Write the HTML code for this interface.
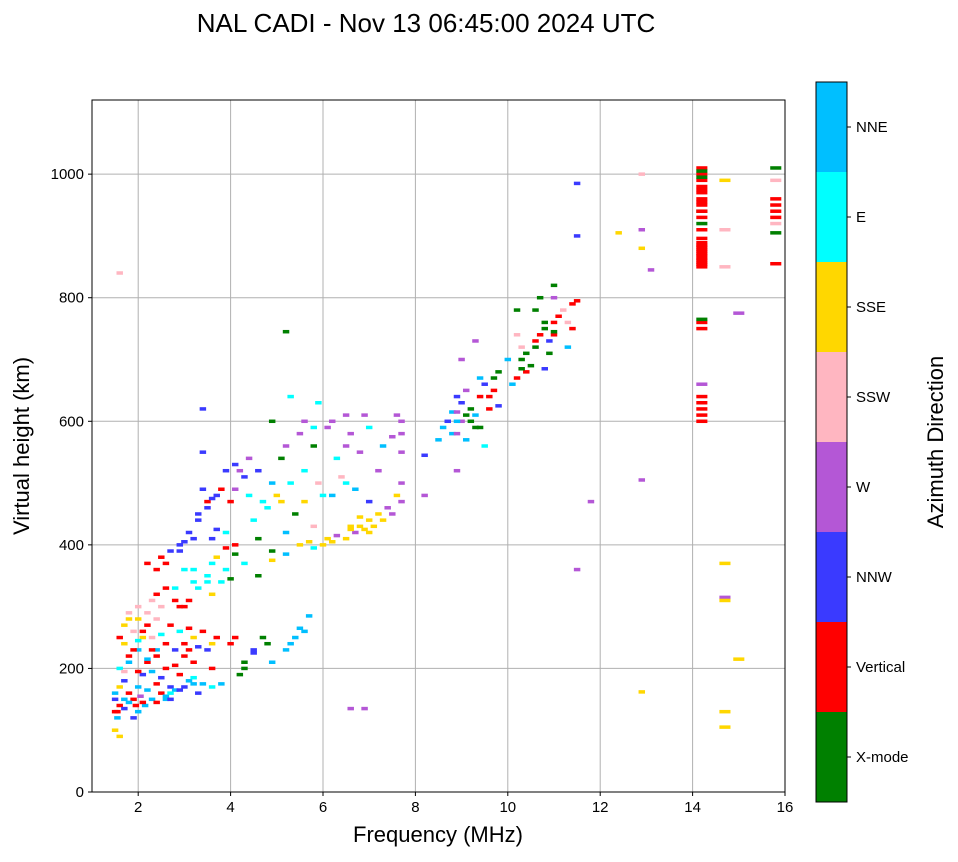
<!DOCTYPE html>
<html><head><meta charset="utf-8"><style>
body{margin:0;background:#fff;}
svg text{font-family:"Liberation Sans",sans-serif;fill:#000;}
</style></head><body>
<svg id="chart" width="958" height="857" xmlns="http://www.w3.org/2000/svg">
<text x="426" y="32" font-size="26" text-anchor="middle">NAL CADI - Nov 13 06:45:00 2024 UTC</text>
<g id="grid"></g>
<g id="cells"></g>
<rect x="92" y="100" width="693" height="692" fill="none" stroke="#000" stroke-width="1"/>
<g id="ticks"></g>
<text x="438" y="842" font-size="22" text-anchor="middle">Frequency (MHz)</text>
<text transform="translate(29,446) rotate(-90)" font-size="22" text-anchor="middle">Virtual height (km)</text>
<g id="cbar"></g>
<text transform="translate(943,442) rotate(-90)" font-size="22" text-anchor="middle">Azimuth Direction</text>
</svg>
<script>
const directions = ["X-mode","Vertical","NNW","W","SSW","SSE","E","NNE"];
const dirColors = ["#008000","#ff0000","#3a3aff","#b457d6","#ffb6c1","#ffd700","#00ffff","#00bfff"];
const xTicks = [2,4,6,8,10,12,14,16];
const yTicks = [0,200,400,600,800,1000];
const freqs = [1.5,1.55,1.6,1.5,1.7,1.6,1.8,1.7,1.9,1.8,2.0,1.6,1.9,2.0,2.1,2.2,2.0,2.1,2.2,2.3,2.4,2.5,2.3,2.5,2.6,2.7,2.8,3.0,3.1,3.2,3.4,3.6,3.8,
1.55,1.7,1.8,1.95,2.05,2.15,2.4,2.6,2.7,
2.4,2.6,2.8,3.0,3.2,3.5,3.6,4.0,4.3,4.5,4.7,4.2,
4.9,5.2,5.4,5.5,5.7,
2.2,2.5,2.7,2.9,3.1,3.3,3.5,3.7,3.4,3.0,3.2,3.5,3.8,2.8,3.0,2.6,3.6,3.9,4.0,3.4,4.3,4.6,4.1,4.4,4.0,3.4,3.9,
4.5,4.8,5.0,5.3,5.6,5.8,5.1,5.5,5.8,6.2,6.6,6.9,5.2,4.9,5.3,6.0,6.5,6.7,7.0,7.2,6.4,5.8,4.6,4.9,5.2,
5.8,6.0,6.2,6.5,6.7,6.9,7.1,7.3,7.5,7.7,7.7,7.7,7.7,6.6,6.8,7.0,
8.2,8.5,8.8,9.0,9.2,9.4,9.0,8.8,9.3,9.5,9.7,9.8,10.0,10.3,10.3,10.5,10.6,10.8,11.0,11.2,11.4,10.2,10.7,11.0,11.3,11.0,9.3,8.9,8.2,9.5,8.9,9.1,9.6,10.4,10.9,
1.6,5.2,11.5,11.5,12.4,12.9,12.9,12.9,13.1,12.9,11.8,11.5,12.9,6.6,6.9,
14.2,14.2,14.2,14.2,14.2,14.2,14.2,14.2,14.2,14.2,14.2,14.2,14.2,14.2,14.2,14.2,14.2,14.2,14.2,14.2,14.2,14.2,14.2,14.2,14.2,14.2,14.2,14.2,
14.7,14.7,14.7,15.0,14.7,14.7,14.7,15.0,14.7,14.7,
15.8,15.8,15.8,15.8,15.8,15.8,15.8,15.8,15.8,
1.5,1.5,1.6,1.7,1.8,1.9,2.0,2.1,1.7,1.6,1.8,2.0,2.2,2.3,2.4,1.9,2.0,2.1,2.2,2.4,2.5,2.6,2.8,2.9,2.3,2.4,2.5,2.7,2.9,3.0,3.1,3.2,3.4,3.1,3.3,2.7,2.9,3.2,3.3,1.7,1.8,2.0,2.2,2.3,3.6,3.7,4.1,2.9,3.1,2.8,3.2,3.3,3.6,3.5,3.7,3.9,4.1,3.9,3.7,3.6,3.2,2.9,2.6,2.4,3.0,3.3,3.5,3.6,3.8,4.2,4.4,4.1,4.7,4.9,5.1,5.4,5.6,5.9,6.2,6.3,6.5,6.8,7.0,7.3,7.5,7.7,7.6,6.1,5.6,5.9,6.5,4.3,4.5,4.8,5.3,5.6,4.1,4.3,4.6,4.9,5.2,5.5,5.7,6.1,6.3,6.6,6.8,7.0,7.2,7.4,7.6,
8.6,8.7,8.9,9.1,9.2,9.3,9.4,8.9,9.1,9.4,9.6,9.7,9.8,10.1,10.2,10.3,10.2,10.4,10.6,10.7,10.8,10.9,11.0,11.1,11.3,11.4,11.5,10.6,11.0,10.8,9.0,8.9,
14.2,14.2,14.2,14.2,14.2,14.2,14.2,14.2,14.2,14.2];
const heights = [100,120,140,160,180,200,220,240,260,280,300,90,150,170,190,210,230,250,270,250,280,300,150,160,150,170,165,170,180,185,175,170,175,
130,135,145,140,155,140,145,155,150,
220,240,230,220,210,230,200,240,210,230,250,190,
210,230,250,265,285,
370,380,390,400,420,440,460,480,490,360,340,350,340,310,300,330,320,360,345,620,510,520,490,480,470,550,520,
440,460,480,500,520,560,540,580,590,600,580,610,560,600,640,480,500,490,470,520,510,430,410,390,420,
395,400,405,410,420,425,430,440,450,470,500,550,600,425,430,440,
545,570,580,600,620,640,630,615,590,660,650,680,700,700,720,690,730,750,760,780,790,780,800,820,720,740,730,520,480,560,600,610,620,680,710,
840,745,985,900,905,1000,880,910,845,505,470,360,162,135,135,
850,857,864,871,878,885,910,930,950,960,970,980,990,1000,1010,995,1005,920,940,600,610,620,630,640,750,760,765,660,
990,910,850,775,370,315,310,215,130,105,
1010,990,960,950,940,930,920,905,855,
130,150,170,195,210,230,245,260,270,250,290,280,290,310,320,120,130,145,165,175,185,200,205,190,195,230,255,270,260,240,265,250,260,230,235,160,165,175,160,150,160,195,215,230,240,250,250,300,310,330,360,330,370,340,380,395,400,420,425,410,410,390,370,360,405,450,470,475,490,520,540,530,470,500,470,450,470,500,480,540,560,550,590,560,575,580,610,590,600,630,610,200,225,240,240,260,385,370,350,375,385,400,405,410,415,430,445,420,450,460,480,
590,600,580,570,600,610,590,640,650,670,640,670,625,660,670,685,740,710,720,740,760,730,745,770,760,750,795,780,800,685,700,615,
854,861,868,875,882,889,896,940,955,975];
const dirIndex = [5,7,1,7,2,6,1,5,4,5,4,5,1,7,2,1,7,5,1,4,4,4,7,1,7,2,7,2,7,6,7,6,7,
1,2,7,1,3,7,1,7,2,
1,1,2,1,1,2,1,1,0,2,0,0,
7,7,7,7,7,
1,1,2,2,2,2,2,2,2,6,6,6,6,1,1,1,5,6,0,2,2,2,3,6,1,2,2,
6,6,5,6,6,0,0,3,6,3,3,3,3,0,6,6,6,7,2,3,4,4,0,0,7,
6,5,5,5,3,5,5,5,3,3,3,3,3,5,5,5,
2,7,7,3,0,1,2,7,0,2,1,0,7,0,4,0,1,0,1,4,1,0,0,0,7,1,3,3,3,6,7,0,1,1,0,
4,0,2,2,5,4,5,3,3,3,3,3,5,3,3,
1,1,1,1,1,1,1,1,1,1,1,1,1,1,1,0,0,0,0,1,1,1,1,1,1,1,0,3,
5,4,4,3,5,3,5,5,5,5,
0,4,1,1,1,1,4,0,1,
1,2,5,4,7,1,6,1,5,1,4,5,4,4,1,2,7,1,7,1,2,1,1,1,7,7,6,1,6,1,1,5,1,1,2,6,2,7,2,7,1,1,7,1,5,1,1,1,1,6,6,6,6,6,5,1,1,6,2,2,2,2,1,1,2,2,1,2,1,3,3,2,6,7,5,0,5,4,7,6,3,3,6,7,3,3,3,3,3,6,3,0,2,0,7,7,0,6,0,5,7,5,5,5,3,5,5,5,5,3,5,
7,2,3,7,0,7,0,2,3,7,1,0,2,7,1,0,4,0,0,1,0,2,0,1,4,1,1,0,3,2,3,3,
1,1,1,1,1,1,1,1,1,1];

const svg=document.getElementById('chart');
const NS="http://www.w3.org/2000/svg";
const X0=92,X1=785,Y0=792,Y1=100;
function xs(f){return X0+(f-1)/(16-1)*(X1-X0);}
function ys(h){return Y0-h/1120*(Y0-Y1);}
function mk(tag,attrs,parent){const e=document.createElementNS(NS,tag);for(const k in attrs)e.setAttribute(k,attrs[k]);parent.appendChild(e);return e;}
const grid=document.getElementById('grid'),ticks=document.getElementById('ticks'),cells=document.getElementById('cells'),cbar=document.getElementById('cbar');
xTicks.forEach(t=>{const x=xs(t);
 const g=mk('line',{x1:x,x2:x,y1:Y1,y2:Y0,stroke:'#b0b0b0','stroke-width':1},grid);
 
 
 mk('line',{x1:x,x2:x,y1:Y0,y2:Y0+4,stroke:'#000'},ticks);
 const tx=mk('text',{x:x,y:Y0+20,'font-size':15,'text-anchor':'middle'},ticks);tx.textContent=t;
 
 
});
yTicks.forEach(t=>{const y=ys(t);
 const g=mk('line',{x1:X0,x2:X1,y1:y,y2:y,stroke:'#b0b0b0','stroke-width':1},grid);
 
 
 mk('line',{x1:X0-4,x2:X0,y1:y,y2:y,stroke:'#000'},ticks);
 const tx=mk('text',{x:X0-8,y:y+5,'font-size':15,'text-anchor':'end'},ticks);tx.textContent=t;
 
 
});
for(let i=0;i<freqs.length;i++){
 const f=freqs[i],h=heights[i];
 const w=f>=14?0.24:0.14;
 let x=xs(f-w/2),x2=Math.min(xs(f+w/2),X1);
 const r=mk('rect',{x:x,y:ys(h)-1.75,width:Math.max(0,x2-x),height:3.5,fill:dirColors[dirIndex[i]]},cells);
 
 
}
const CB0=82,CB1=802,seg=(CB1-CB0)/directions.length;
directions.forEach((d,i)=>{
 const y=CB1-(i+1)*seg;
 const r=mk('rect',{x:816,y:y,width:31,height:seg,fill:dirColors[i]},cbar);
 
 
 mk('line',{x1:847,x2:851,y1:y+seg/2,y2:y+seg/2,stroke:'#000'},cbar);
 const tx=mk('text',{x:856,y:y+seg/2+5,'font-size':15},cbar);tx.textContent=d;
 
 
});
mk('rect',{x:816,y:CB0,width:31,height:CB1-CB0,fill:'none',stroke:'#000'},cbar);
</script>
</body></html>
